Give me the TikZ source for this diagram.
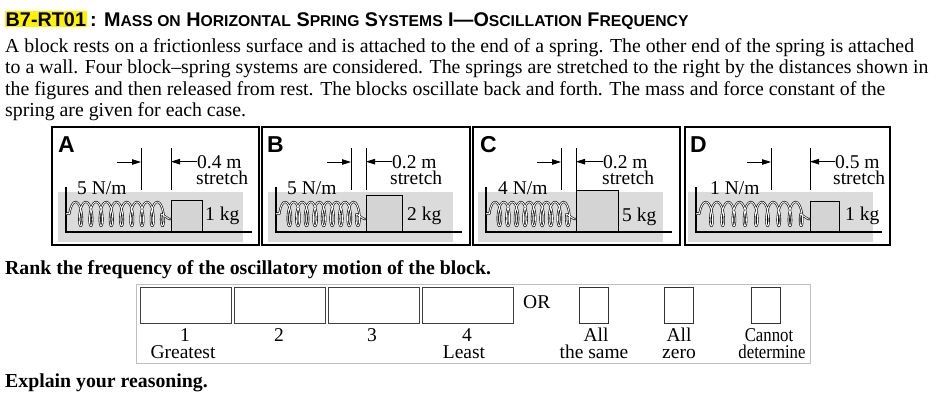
\documentclass[tikz,border=0pt]{standalone}
\usepackage{fontspec}
\usepackage{graphicx}
\setmainfont{Liberation Serif}
\newfontfamily\hv{Liberation Sans}
\usetikzlibrary{arrows.meta}
\newcommand\smc[1]{{\fontsize{15.7}{15.7}\selectfont #1}}
% spring: #1 x start, #2 x end, #3 y centre, #4 coils
\newcommand\myspring[4]{%
  \draw[springwire] (#1,#3) -- (#1+3,#3-1)
    -- plot[domain=90:90+360*#4, samples=44*#4, variable=\t]
       ({#1+7+(\t-90)/(360*#4)*(#2-#1-13)-3.6*sin(\t)}, {#3+12*cos(\t)})
    -- (#2-2,#3+5) -- (#2,#3+5);}
\begin{document}
\begin{tikzpicture}[x=1pt,y=-1pt,
  txt/.style={inner sep=0pt, anchor=base west, font=\fontsize{19.8}{21.5}\selectfont},
  btxt/.style={inner sep=0pt, anchor=base west, font=\bfseries\fontsize{19.8}{21.5}\selectfont},
  ptxt/.style={inner sep=0pt, anchor=base west, font=\fontsize{19.5}{16}\selectfont},
  clab/.style={inner sep=0pt, anchor=base, font=\fontsize{19.5}{16}\selectfont},
  plabel/.style={inner sep=0pt, anchor=base west, font=\hv\bfseries\fontsize{23}{23}\selectfont},
  frame/.style={draw=black, line width=1.1pt},
  shadowbox/.style={fill=black!14, draw=none},
  wallline/.style={line width=1.3pt},
  blockbox/.style={draw=black, line width=1.2pt, fill=black!17, inner sep=0pt, anchor=south west},
  dimline/.style={line width=0.8pt},
  dimarrow/.style={line width=0.8pt, -{Triangle[length=9pt,width=5.5pt]}},
  springwire/.style={line width=0.6pt, double=white, double distance=0.9pt, line join=round},
  rankbox/.style={draw=black!75, line width=1.3pt, minimum width=91pt, minimum height=36pt, anchor=north west, inner sep=0pt},
  smallbox/.style={draw=black!80, line width=1pt, minimum width=29pt, minimum height=36pt, anchor=north west, inner sep=0pt},
]
\useasboundingbox (0,0) rectangle (952,400);
% title
\node[fill=yellow, inner xsep=0.5pt, inner ysep=1.2pt, anchor=base west, font=\hv\bfseries\fontsize{19.8}{19.8}\selectfont] (code) at (5,26) {B7-RT01};
\node[anchor=base west, inner sep=0pt, font=\hv\bfseries\fontsize{19.8}{19.8}\selectfont] (title) at (code.base east) {\,: M\smc{ASS ON} H\smc{ORIZONTAL} S\smc{PRING} S\smc{YSTEMS} I—O\smc{SCILLATION} F\smc{REQUENCY}};
% body
\node[txt] (l1) at (5,52) {A block rests on a frictionless surface and is attached to the end of a spring. The other end of the spring is attached};
\node[txt] (l2) at (5,73.5) {to a wall. Four block–spring systems are considered. The springs are stretched to the right by the distances shown in};
\node[txt] (l3) at (5,95) {the figures and then released from rest. The blocks oscillate back and forth. The mass and force constant of the};
\node[txt] (l4) at (5,116.5) {spring are given for each case.};

% ---------- Panel A ----------
\draw[frame] (52,127) rectangle (259,245);
\node[plabel] (labA) at (58,152) {A};
\fill[shadowbox] (58,192) rectangle (243,242);
\draw[wallline] (66,187) -- (66,232) -- (252,232);
\node[blockbox, minimum width=31pt, minimum height=31pt] (blkA) at (171,232) {};
\myspring{66}{171}{214}{9}
\node[ptxt] (kA) at (77,194) {5 N/m};
\node[ptxt] (mA) at (205,220) {1 kg};
\coordinate (dA1) at (141,148); \coordinate (dA2) at (171,148);
\draw[dimline] (dA1) -- (141,190);
\draw[dimline] (dA2) -- (171,190);
\coordinate (tA) at (117,162);
\draw[dimarrow] (tA) -- (tA -| dA1);
\node[ptxt] (sA) at (197,168) {0.4 m};
\node[ptxt] (sA2) at (196,184) {stretch};
\draw[dimarrow] (sA.west) -- (sA.west -| dA2);

% ---------- Panel B ----------
\draw[frame] (262,127) rectangle (470,245);
\node[plabel] (labB) at (267,152) {B};
\fill[shadowbox] (268,192) rectangle (453,242);
\draw[wallline] (276,187) -- (276,232) -- (462,232);
\node[blockbox, minimum width=36pt, minimum height=36pt] (blkB) at (366,232) {};
\myspring{276}{366}{214}{9}
\node[ptxt] (kB) at (287,194) {5 N/m};
\node[ptxt] (mB) at (407,220) {2 kg};
\coordinate (dB1) at (351,148); \coordinate (dB2) at (366,148);
\draw[dimline] (dB1) -- (351,190);
\draw[dimline] (dB2) -- (366,190);
\coordinate (tB) at (327,162);
\draw[dimarrow] (tB) -- (tB -| dB1);
\node[ptxt] (sB) at (392,168) {0.2 m};
\node[ptxt] (sB2) at (390,184) {stretch};
\draw[dimarrow] (sB.west) -- (sB.west -| dB2);

% ---------- Panel C ----------
\draw[frame] (473,127) rectangle (680,245);
\node[plabel] (labC) at (480,152) {C};
\fill[shadowbox] (478,192) rectangle (663,242);
\draw[wallline] (486,187) -- (486,232) -- (672,232);
\node[blockbox, minimum width=42pt, minimum height=41pt] (blkC) at (576,232) {};
\myspring{486}{576}{214}{9}
\node[ptxt] (kC) at (498,194) {4 N/m};
\node[ptxt] (mC) at (622,221) {5 kg};
\coordinate (dC1) at (561,148); \coordinate (dC2) at (576,148);
\draw[dimline] (dC1) -- (561,190);
\draw[dimline] (dC2) -- (576,190);
\coordinate (tC) at (537,162);
\draw[dimarrow] (tC) -- (tC -| dC1);
\node[ptxt] (sC) at (603,168) {0.2 m};
\node[ptxt] (sC2) at (602,184) {stretch};
\draw[dimarrow] (sC.west) -- (sC.west -| dC2);

% ---------- Panel D ----------
\draw[frame] (685,127) rectangle (890,245);
\node[plabel] (labD) at (690,152) {D};
\fill[shadowbox] (688,192) rectangle (873,242);
\draw[wallline] (696,187) -- (696,232) -- (882,232);
\node[blockbox, minimum width=29pt, minimum height=30pt] (blkD) at (810,232) {};
\myspring{696}{810}{214}{9}
\node[ptxt] (kD) at (710,194) {1 N/m};
\node[ptxt] (mD) at (845,220) {1 kg};
\coordinate (dD1) at (771,148); \coordinate (dD2) at (810,148);
\draw[dimline] (dD1) -- (771,190);
\draw[dimline] (dD2) -- (810,190);
\coordinate (tD) at (747,162);
\draw[dimarrow] (tD) -- (tD -| dD1);
\node[ptxt] (sD) at (835,168) {0.5 m};
\node[ptxt] (sD2) at (833,184) {stretch};
\draw[dimarrow] (sD.west) -- (sD.west -| dD2);

% ---------- Ranking ----------
\node[btxt] (rank) at (5,274) {Rank the frequency of the oscillatory motion of the block.};
\draw[draw=black!25, line width=1pt] (136,284) rectangle (810,363);
\node[rankbox] (r1) at (140,287) {};
\node[rankbox] (r2) at (234,287) {};
\node[rankbox] (r3) at (328,287) {};
\node[rankbox] (r4) at (422,287) {};
\node[clab] (n1) at (185,341) {1};
\node[clab] (g1) at (183,358) {Greatest};
\node[clab] (n2) at (279,341) {2};
\node[clab] (n3) at (372,341) {3};
\node[clab] (n4) at (467,341) {4};
\node[clab] (g4) at (464,358) {Least};
\node[ptxt] (or) at (523,308) {OR};
\node[smallbox] (b1) at (579,287) {};
\node[smallbox] (b2) at (664,287) {};
\node[smallbox] (b3) at (751,287) {};
\node[clab] (a1) at (596,341) {All};
\node[clab] (a2) at (594,358) {the same};
\node[clab] (z1) at (679,341) {All};
\node[clab] (z2) at (679,358) {zero};
\node[clab] (c1) at (769,341) {\scalebox{0.86}[1]{Cannot}};
\node[clab] (c2) at (772,358) {\scalebox{0.86}[1]{determine}};
\node[btxt] (explain) at (5,387) {Explain your reasoning.};
\end{tikzpicture}
\end{document}
